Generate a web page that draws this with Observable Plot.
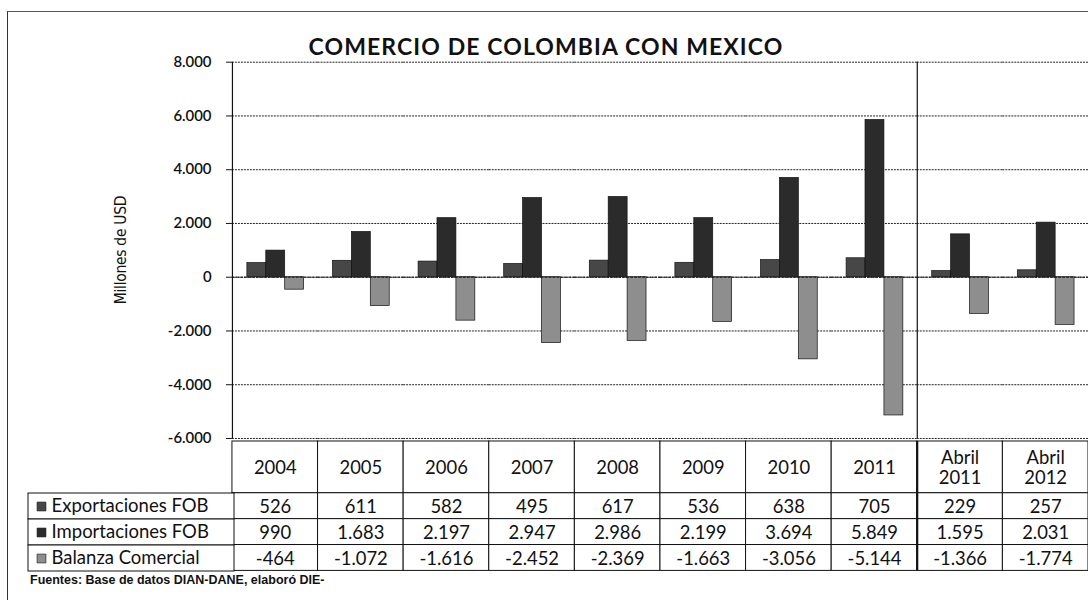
<!DOCTYPE html>
<html>
<head>
<meta charset="utf-8">
<script src="https://cdn.jsdelivr.net/npm/d3@7"></script>
<script src="https://cdn.jsdelivr.net/npm/@observablehq/plot@0.6"></script>
<style>
  html, body { margin: 0; padding: 0; background: #fff; }
  #page { position: relative; width: 1088px; height: 600px; overflow: hidden; background: #fff; }
  #frame { position: absolute; left: 7px; top: 11px; width: 1200px; height: 700px;
           border-left: 1px solid #333; border-top: 1px solid #555; }
  #title { position: absolute; left: 0; width: 1092px; top: 35px; text-align: center;
           font-family: Lato, "Open Sans", sans-serif; font-weight: 700; font-size: 23px;
           line-height: 23px; letter-spacing: 1.1px; color: #111; white-space: nowrap; }
  #ylabel { position: absolute; left: 121px; top: 250px; transform: translate(-50%, -50%) rotate(-90deg);
            font-family: "Liberation Sans Narrow", "DejaVu Sans Condensed", sans-serif; font-size: 15.5px;
            letter-spacing: -0.3px; color: #111; white-space: nowrap; }
  #caption { position: absolute; left: 30px; top: 573px; font-family: "Liberation Sans", Arial, sans-serif;
             font-weight: 700; font-size: 12.5px; color: #111; white-space: nowrap; }
  .abs { position: absolute; }
</style>
</head>
<body>
<div id="page">
  <div id="frame"></div>
  <div id="chart" class="abs" style="left:0;top:0"></div>
  <div id="table" class="abs" style="left:0;top:440px"></div>
  <div id="rowhead" class="abs" style="left:27px;top:440px"></div>
  <div id="title">COMERCIO DE COLOMBIA CON MEXICO</div>
  <div id="ylabel">Millones de USD</div>
  <div id="caption">Fuentes: Base de datos DIAN-DANE, elaboró DIE-</div>
</div>
<script>
// ---- data ----
const categories = ["2004", "2005", "2006", "2007", "2008", "2009", "2010", "2011", "Abril 2011", "Abril 2012"];
const exportaciones = [526, 611, 582, 495, 617, 536, 638, 705, 229, 257];
const importaciones = [990, 1683, 2197, 2947, 2986, 2199, 3694, 5849, 1595, 2031];
const balanza = [-464, -1072, -1616, -2452, -2369, -1663, -3056, -5144, -1366, -1774];
const seriesNames = ["Exportaciones FOB", "Importaciones FOB", "Balanza Comercial"];
const seriesColors = ["#474747", "#2b2b2b", "#8e8e8e"];
const yTicks = [-6000, -4000, -2000, 0, 2000, 4000, 6000, 8000];
const titleText = "COMERCIO DE COLOMBIA CON MEXICO";

// ---- helpers ----
const seriesValues = [exportaciones, importaciones, balanza];
const fmt = d3.formatLocale({decimal: ",", thousands: ".", grouping: [3], currency: ["", ""], minus: "-"}).format(",d");
const W = 1093, ML = 233, MR = 0;
const step = (W - ML - MR) / categories.length;
const FONT = "Lato, 'Open Sans', sans-serif";
const TABLE_FS = 18.5;

const long = categories.flatMap((c, i) =>
  seriesNames.map((s, k) => ({cat: c, series: s, value: seriesValues[k][i]})));

// ---- chart ----
const chart = Plot.plot({
  width: W, height: 441,
  marginTop: 62, marginBottom: 1, marginLeft: ML, marginRight: MR,
  style: {fontFamily: FONT, fontSize: "15px", color: "#111", background: "transparent", overflow: "visible"},
  fx: {domain: categories, padding: 0, axis: null, label: null},
  x: {domain: seriesNames, paddingInner: 0, paddingOuter: 0.73, axis: null},
  y: {domain: [-6000, 8000], axis: null},
  color: {domain: seriesNames, range: seriesColors},
  marks: [
    Plot.ruleY(yTicks, {stroke: "#222", strokeWidth: 1, strokeDasharray: "2,1"}),
    Plot.barY(long, {fx: "cat", x: "series", y: "value", fill: "series", stroke: "#111", strokeWidth: 0.7}),
    Plot.ruleY([0], {stroke: "#111", strokeWidth: 1, strokeDasharray: "3,1"}),
    Plot.ruleX([{cat: categories[0]}, {cat: categories[8]}],
      {fx: "cat", x: null, y1: -6000, y2: 8000, dx: -step / 2, stroke: "#111", strokeWidth: 1.2}),
    Plot.axisY({ticks: yTicks, tickFormat: fmt, tickSize: 6, tickPadding: 15, label: null,
      fontSize: 15, fontWeight: 600, fill: "#111", stroke: "#111"})
  ]
});
document.getElementById("chart").append(chart);

// ---- data table ----
const tableCells = [];
categories.forEach((c, i) => {
  tableCells.push({cat: c, y1: 0, y2: 2, ym: 1, label: c.replace(" ", "\n")});
  seriesValues.forEach((vals, r) => {
    tableCells.push({cat: c, y1: 2 + r, y2: 3 + r, ym: 2.5 + r, label: fmt(vals[i])});
  });
});

const table = Plot.plot({
  width: W, height: 133,
  marginTop: 1, marginBottom: 2, marginLeft: ML, marginRight: MR,
  style: {fontFamily: FONT, fontSize: TABLE_FS + "px", color: "#111", background: "transparent", overflow: "visible"},
  x: {domain: categories, padding: 0, axis: null},
  y: {domain: [0, 5], reverse: true, axis: null},
  marks: [
    Plot.barY(tableCells, {x: "cat", y1: "y1", y2: "y2", fill: "white", stroke: "#111", strokeWidth: 1}),
    Plot.text(tableCells, {x: "cat", y: "ym", text: "label", fontSize: TABLE_FS, lineHeight: 1.12, fill: "#111"}),
    Plot.ruleX([categories[8]], {x: d => d, dx: -step / 2, y1: 0, y2: 5, stroke: "#111", strokeWidth: 2})
  ]
});
document.getElementById("table").append(table);

// ---- row headers (legend) ----
const rowCells = seriesNames.map((s, r) => ({series: s, y1: 2 + r, y2: 3 + r, ym: 2.5 + r}));
const rowhead = Plot.plot({
  width: 207, height: 133,
  marginTop: 1, marginBottom: 2, marginLeft: 1, marginRight: 0,
  style: {fontFamily: FONT, fontSize: TABLE_FS + "px", color: "#111", background: "transparent", overflow: "visible"},
  x: {domain: [0, 1], axis: null},
  y: {domain: [0, 5], reverse: true, axis: null},
  color: {domain: seriesNames, range: seriesColors},
  marks: [
    Plot.rect(rowCells, {x1: 0, x2: 1, y1: "y1", y2: "y2", fill: "white", stroke: "#111", strokeWidth: 1}),
    Plot.dot(rowCells, {x: 0, y: "ym", symbol: "square", r: 5, fill: "series", stroke: "#111", strokeWidth: 0.6, dx: 13}),
    Plot.text(rowCells, {x: 0, y: "ym", text: "series", textAnchor: "start", dx: 23, fontSize: TABLE_FS, fill: "#111"})
  ]
});
document.getElementById("rowhead").append(rowhead);
document.getElementById("title").textContent = titleText;
</script>
</body>
</html>
